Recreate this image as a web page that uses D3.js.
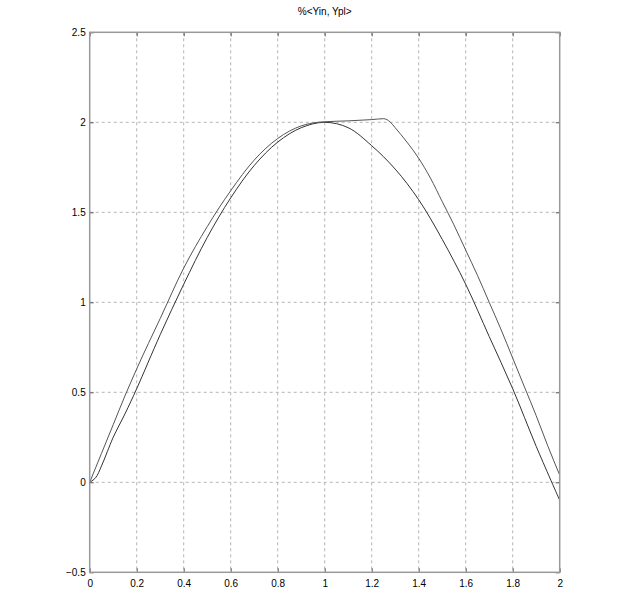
<!DOCTYPE html>
<html><head><meta charset="utf-8">
<script src="https://cdnjs.cloudflare.com/ajax/libs/d3/7.8.5/d3.min.js"></script>
<style>body{margin:0;background:#fff}svg{display:block}text{font-family:"Liberation Sans",Arial,sans-serif}</style>
</head><body><svg id="c" width="623" height="611"></svg>
<script>
const title = "%<Yin, Ypl>";
const xTicks = [0,0.2,0.4,0.6,0.8,1,1.2,1.4,1.6,1.8,2];
const yTicks = [-0.5,0,0.5,1,1.5,2,2.5];
// Curve 1 (smooth start, peak near 1)
const x1 = [0,0.025,0.05,0.075,0.1,0.15,0.2,0.3,0.4,0.5,0.6,0.7,0.8,0.9,1.0,1.1,1.2,1.3,1.4,1.5,1.6,1.7,1.8,1.9,2.0];
const y1 = [0,0.025,0.09,0.17,0.25,0.38,0.52,0.82,1.1,1.36,1.58,1.76,1.89,1.97,2.0,1.97,1.87,1.74,1.57,1.35,1.1,0.81,0.52,0.2,-0.10];
// Curve 2 (linear start, plateau, delayed fall)
const x2 = [0,0.05,0.1,0.15,0.2,0.3,0.4,0.5,0.6,0.7,0.8,0.9,0.97,1.0,1.1,1.2,1.25,1.265,1.28,1.3,1.35,1.4,1.45,1.5,1.55,1.6,1.65,1.7,1.75,1.8,1.85,1.9,1.95,2.0];
const y2 = [0,0.16,0.32,0.48,0.63,0.91,1.19,1.42,1.62,1.79,1.91,1.98,2.0,2.003,2.008,2.015,2.02,2.015,2.0,1.97,1.89,1.8,1.69,1.56,1.43,1.29,1.15,1.0,0.85,0.69,0.53,0.37,0.2,0.04];

const svg = d3.select("#c");
const L=89.7, R=559.7, T=32.3, B=572.3;
const x = d3.scaleLinear().domain([0,2]).range([L,R]);
const y = d3.scaleLinear().domain([-0.5,2.5]).range([B,T]);

// grid
const g = svg.append("g");
g.selectAll("line.gx").data(xTicks.slice(1,-1)).join("line")
  .attr("x1",d=>x(d)).attr("x2",d=>x(d)).attr("y1",T).attr("y2",B)
  .attr("stroke","#b4b4b4").attr("stroke-dasharray","3,3").attr("stroke-width",1);
g.selectAll("line.gy").data(yTicks.slice(1,-1)).join("line")
  .attr("y1",d=>y(d)).attr("y2",d=>y(d)).attr("x1",L).attr("x2",R)
  .attr("stroke","#b4b4b4").attr("stroke-dasharray","3,3").attr("stroke-width",1);

// curves
const line1 = d3.line().curve(d3.curveCatmullRom.alpha(0.5));
const line2 = d3.line().curve(d3.curveMonotoneX);
svg.append("path").attr("d", line1(x1.map((v,i)=>[x(v),y(y1[i])])))
  .attr("fill","none").attr("stroke","#333").attr("stroke-width",1);
svg.append("path").attr("d", line2(x2.map((v,i)=>[x(v),y(y2[i])])))
  .attr("fill","none").attr("stroke","#555").attr("stroke-width",1);

// axes
const axB = d3.axisBottom(x).tickValues(xTicks).tickFormat(d3.format("~g")).tickSizeInner(-4).tickSizeOuter(0).tickPadding(8);
const axL = d3.axisLeft(y).tickValues(yTicks).tickFormat(d3.format("~g")).tickSizeInner(-4).tickSizeOuter(0).tickPadding(4);
const axT = d3.axisTop(x).tickValues(xTicks).tickFormat("").tickSizeInner(-4).tickSizeOuter(0);
const axR = d3.axisRight(y).tickValues(yTicks).tickFormat("").tickSizeInner(-4).tickSizeOuter(0);
function style(sel){
  sel.select(".domain").remove();
  sel.selectAll(".tick line").attr("stroke","#555");
  sel.selectAll("text").attr("fill","#000").style("font-size","10px").style("font-family","'Liberation Sans',Arial,sans-serif");
}
svg.append("g").attr("transform",`translate(0,${B})`).call(axB).call(style);
svg.append("g").attr("transform",`translate(${L},0)`).call(axL).call(style);
svg.append("g").attr("transform",`translate(0,${T})`).call(axT).call(style);
svg.append("g").attr("transform",`translate(${R},0)`).call(axR).call(style);

svg.append("rect").attr("x",L).attr("y",T).attr("width",R-L).attr("height",B-T)
  .attr("fill","none").attr("stroke","#999").attr("stroke-width",1.5);

svg.append("text").attr("x",(L+R)/2).attr("y",15).attr("text-anchor","middle")
  .style("font-size","10px").attr("fill","#000").text(title);
</script></body></html>
